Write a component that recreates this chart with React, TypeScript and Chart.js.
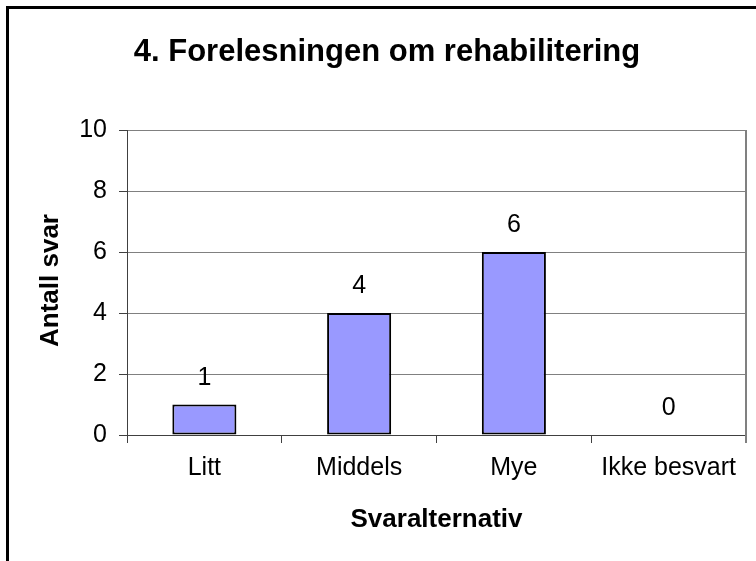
import React, { useEffect, useRef } from "react";
import { Chart, registerables } from "chart.js";

Chart.register(...registerables);

const chartTitle = "4. Forelesningen om rehabilitering";
const categories = ["Litt", "Middels", "Mye", "Ikke besvart"];
const answerCounts = [1, 4, 6, 0];
const yTitle = "Antall svar";
const xTitle = "Svaralternativ";
const yMin = 0;
const yMax = 10;
const yStep = 2;

const FONT = "'Liberation Sans', Arial, sans-serif";

const decorPlugin = {
  id: "decor",
  beforeDraw(chart: any) {
    const { ctx } = chart;
    ctx.save();
    ctx.fillStyle = "#ffffff";
    ctx.fillRect(0, 0, chart.width, chart.height);
    ctx.restore();
  },
  afterDraw(chart: any) {
    const { ctx, chartArea } = chart;
    ctx.save();
    // outer border (clipped on right/bottom)
    ctx.fillStyle = "#000000";
    ctx.fillRect(6, 6, 3, chart.height);
    ctx.fillRect(6, 6, chart.width, 3);
    // plot area right border
    ctx.strokeStyle = "#808080";
    ctx.lineWidth = 2;
    ctx.beginPath();
    ctx.moveTo(chartArea.right, chartArea.top);
    ctx.lineTo(chartArea.right, chartArea.bottom + 8);
    ctx.stroke();
    // title
    ctx.fillStyle = "#000000";
    ctx.font = `bold 31px ${FONT}`;
    ctx.textAlign = "center";
    ctx.textBaseline = "alphabetic";
    ctx.fillText(chartTitle, 387, 61);
    // x title
    ctx.font = `bold 26px ${FONT}`;
    ctx.fillText(xTitle, (chartArea.left + chartArea.right) / 2, 527);
    // y title
    ctx.save();
    ctx.translate(58, (chartArea.top + chartArea.bottom) / 2 - 2);
    ctx.rotate(-Math.PI / 2);
    ctx.fillText(yTitle, 0, 0);
    ctx.restore();
    // data labels
    ctx.font = `25px ${FONT}`;
    const meta = chart.getDatasetMeta(0);
    meta.data.forEach((el: any, i: number) => {
      ctx.fillText(String(answerCounts[i]), el.x, el.y - 20);
    });
    ctx.restore();
  },
};

export default function App() {
  const ref = useRef<HTMLCanvasElement | null>(null);
  useEffect(() => {
    if (!ref.current) return;
    const chart = new Chart(ref.current, {
      type: "bar",
      data: {
        labels: categories,
        datasets: [
          {
            data: answerCounts,
            backgroundColor: "#9999FF",
            borderColor: "#000000",
            borderWidth: 2,
            borderSkipped: false,
            categoryPercentage: 1,
            barPercentage: 0.414,
          },
        ],
      },
      options: {
        animation: false,
        responsive: false,
        maintainAspectRatio: false,
        layout: { padding: { top: 130, right: 10, bottom: 0, left: 0 } },
        plugins: {
          legend: { display: false },
          title: { display: false },
          tooltip: { enabled: false },
        },
        scales: {
          x: {
            offset: true,
            grid: {
              offset: true,
              drawOnChartArea: false,
              tickLength: 8,
              tickColor: "#404040",
              lineWidth: 1,
            },
            border: { color: "#404040", width: 1 },
            ticks: {
              color: "#000000",
              font: { family: FONT, size: 25 },
              padding: 10,
              maxRotation: 0,
              autoSkip: false,
            },
            afterFit(scale: any) {
              scale.height = 126;
            },
          },
          y: {
            min: yMin,
            max: yMax,
            grid: {
              color: "#808080",
              tickColor: "#404040",
              tickLength: 8,
              lineWidth: 1,
            },
            border: { color: "#404040", width: 1 },
            ticks: {
              stepSize: yStep,
              color: "#000000",
              font: { family: FONT, size: 25 },
              padding: 12,
            },
            afterFit(scale: any) {
              scale.width = 127;
            },
          },
        },
      },
      plugins: [decorPlugin],
    });
    return () => chart.destroy();
  }, []);
  return (
    <div style={{ position: "fixed", left: 0, top: 0, width: 756, height: 561 }}>
      <canvas ref={ref} width={756} height={561} style={{ display: "block" }} />
    </div>
  );
}
